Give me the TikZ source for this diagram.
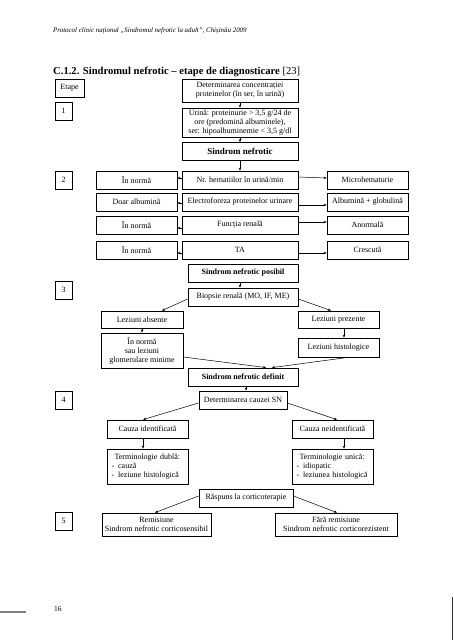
\documentclass[tikz,border=0pt]{standalone}
\usepackage{fontspec}
\setmainfont{Liberation Serif}
\usetikzlibrary{arrows.meta}
\begin{document}
\begin{tikzpicture}[x=1pt,y=-1pt,
  box/.style={draw, line width=0.8pt, inner sep=0pt, align=center, font=\fontsize{8}{9}\selectfont},
  bx/.style 2 args={box, minimum width=#1pt, minimum height=#2pt},
  arr/.style={-{Stealth[length=3pt,width=2.6pt]}, line width=0.5pt}]
\useasboundingbox (0,0) rectangle (453,640);
% header
\node[anchor=west, inner sep=0pt, font=\fontsize{6.9}{8}\selectfont\itshape] (hdr) at (53,31) {Protocol clinic național „Sindromul nefrotic la adult”, Chișinău 2009};
\node[anchor=west, inner sep=0pt, font=\fontsize{10.6}{12}\selectfont] (ttl) at (53,72) {\textbf{C.1.2. Sindromul nefrotic – etape de diagnosticare} [23]};
% stage boxes
\node[bx={29}{18}] (etape) at (69.5,88) {Etape};
\node[bx={17}{18}] (s1) at (63.5,111) {1};
\node[bx={17}{18}] (s2) at (63.5,180) {2};
\node[bx={17}{18}] (s3) at (63.5,290) {3};
\node[bx={17}{18}] (s4) at (63.5,400) {4};
\node[bx={17}{18}] (s5) at (63.5,521) {5};
% stage 1
\node[bx={116}{23}] (det) at (240,90.5) {Determinarea concentrației\\proteinelor (în ser, în urină)};
\node[bx={116}{29}] (ur) at (240,122.5) {Urină: proteinurie > 3,5 g/24 de\\ore (predomină albuminele),\\ser: hipoalbuminemie < 3,5 g/dl};
\node[bx={116}{18}, font=\fontsize{9}{10}\selectfont\bfseries] (sn) at (240,151.5) {Sindrom nefrotic};
% stage 2 rows
\node[bx={81}{18}] (l1) at (136.5,180) {În normă};
\node[bx={116}{18}] (c1) at (240,180) {Nr. hematiilor în urină/min};
\node[bx={81}{18}] (r1) at (367.5,180) {Microhematurie};
\node[bx={81}{18}] (l2) at (136.5,202) {Doar albumină};
\node[bx={116}{18}] (c2) at (240,202) {Electroforeza proteinelor urinare};
\node[bx={81}{18}] (r2) at (367.5,202) {Albumină + globulină};
\node[bx={81}{18}] (l3) at (136.5,225) {În normă};
\node[bx={116}{18}] (c3) at (240,225) {Funcția renală};
\node[bx={81}{18}] (r3) at (367.5,225) {Anormală};
\node[bx={81}{18}] (l4) at (136.5,250) {În normă};
\node[bx={116}{18}] (c4) at (240,250) {TA};
\node[bx={81}{18}] (r4) at (367.5,250) {Crescută};
% stage 3
\node[bx={110}{18}, font=\fontsize{8}{9}\selectfont\bfseries] (pos) at (243,273) {Sindrom nefrotic posibil};
\node[bx={110}{18}] (bio) at (243,297) {Biopsie renală (MO, IF, ME)};
\node[bx={82}{17}] (labs) at (142,319.5) {Leziuni absente};
\node[bx={81}{17}] (lpr) at (338.5,319.5) {Leziuni prezente};
\node[bx={82}{35}] (inn) at (142,350.5) {În normă\\sau leziuni\\glomerulare minime};
\node[bx={81}{19}] (lhi) at (338.5,347.5) {Leziuni histologice};
\node[bx={110}{18}, font=\fontsize{8}{9}\selectfont\bfseries] (def) at (243,377) {Sindrom nefrotic definit};
% stage 4
\node[bx={88}{18}] (dc) at (243,400) {Determinarea cauzei SN};
\node[bx={81}{18}] (cid) at (147.5,429) {Cauza identificată};
\node[bx={81}{18}] (cne) at (332.5,429) {Cauza neidentificată};
\node[bx={81}{35}, align=left, text width=72pt] (td) at (147.5,466.5) {\hspace{3pt}Terminologie dublă:\\-\hspace{4pt}cauză\\-\hspace{4pt}leziune histologică};
\node[bx={81}{35}, align=left, text width=72pt] (tu) at (332.5,466.5) {\hspace{3pt}Terminologie unică:\\-\hspace{4pt}idiopatic\\-\hspace{4pt}leziunea histologică};
% stage 5
\node[bx={94}{18}] (rc) at (246,498) {Răspuns la corticoterapie};
\node[bx={109}{23}] (rem) at (156.5,524.5) {Remisiune\\Sindrom nefrotic corticosensibil};
\node[bx={122}{23}] (frem) at (336,524.5) {Fără remisiune\\Sindrom nefrotic corticorezistent};
% arrows stage 1
\draw[arr] (det.south) -- (ur.north);
\draw[arr] (ur.south) -- (sn.north);
\draw[arr] (sn.south) -- (c1.north);
% rows
\draw[arr] (c1.west |- 0,178) -- (l1.east |- 0,178);
\draw[arr] (c1.east |- 0,177) -- (r1.west |- 0,178);
\draw[arr] (c2.west |- 0,203) -- (l2.east |- 0,203);
\draw[arr] (c2.east |- 0,205) -- (r2.west |- 0,205);
\draw[arr] (c3.west |- 0,228) -- (l3.east |- 0,228);
\draw[arr] (c3.east |- 0,222) -- (r3.west |- 0,222);
\draw[arr] (c4.west |- 0,253) -- (l4.east |- 0,253);
\draw[arr] (c4.east |- 0,253) -- (r4.west |- 0,253);
% stage 3 arrows
\draw[arr] (pos.south -| 240,0) -- (bio.north -| 240,0);
\draw[arr] (bio.west |- 0,299) -- (labs.north -| 162,0);
\draw[arr] (bio.east |- 0,299) -- (lpr.north -| 331,0);
\draw[arr] (labs.south -| 142,0) -- (inn.north -| 142,0);
\draw[arr] (lpr.south -| 344,0) -- (lhi.north -| 344,0);
\draw[arr] (inn.east |- 0,357) -- (def.north -| 266,0);
\draw[arr] (lhi.south -| 348,0) -- (def.north -| 272,0);
% stage 4 arrows
\draw[arr] (def.south -| 246,0) -- (dc.north -| 246,0);
\draw[arr] (dc.west |- 0,403) -- (cid.north -| 143,0);
\draw[arr] (dc.east |- 0,403) -- (cne.north -| 337,0);
\draw[arr] (cid.south -| 143,0) -- (td.north -| 143,0);
\draw[arr] (cne.south -| 344,0) -- (tu.north -| 344,0);
% stage 5 arrows
\draw[arr] (rc.west |- 0,496) -- (rem.north -| 155,0);
\draw[arr] (rc.east |- 0,496) -- (frem.north -| 337,0);
% footer
\node[anchor=west, inner sep=0pt, font=\fontsize{7.5}{9}\selectfont] (pg) at (54,609) {16};
\coordinate (fl1) at (0,612);
\coordinate (fl2) at (26,612);
\draw[gray, line width=1.2pt] (fl1) -- (fl2);
\coordinate (fr1) at (452,597);
\coordinate (fr2) at (452,640);
\draw[black!80, line width=0.9pt] (fr1) -- (fr2);
\end{tikzpicture}
\end{document}
